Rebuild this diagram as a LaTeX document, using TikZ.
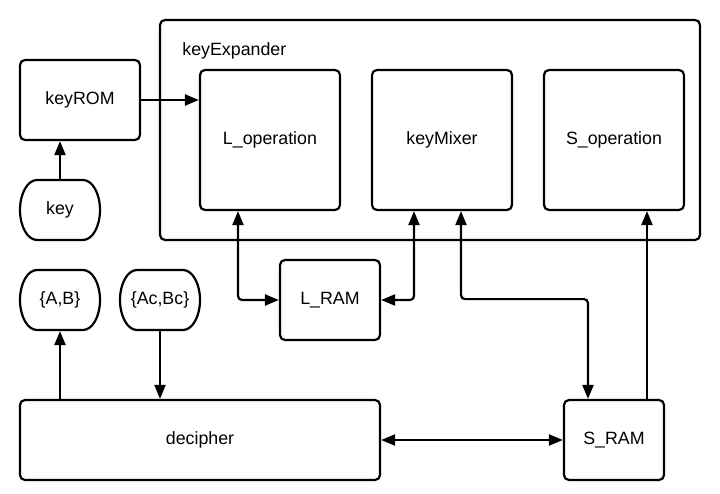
\documentclass[tikz,border=0pt]{standalone}
\usepackage{fontspec}
\setmainfont{Liberation Sans}
\usetikzlibrary{arrows.meta}
\begin{document}
\begin{tikzpicture}[x=1bp,y=-1bp,line width=2.2bp,
  lbl/.style={font=\fontsize{17.8bp}{21bp}\selectfont},
  box/.style={lbl,draw,rounded corners=5bp,inner sep=0pt},
  term/.style={lbl,inner sep=0pt,minimum width=80bp,minimum height=60bp},
  tip/.tip={Triangle[length=14bp,width=11bp]},
  arr/.style={-tip,rounded corners=4bp},
  dbl/.style={tip-tip,rounded corners=4bp}]
\useasboundingbox[fill=white] (0,0) rectangle (720,494);
% containers and boxes
\node[box,minimum width=540bp,minimum height=220bp] (ke) at (430,130) {};
\node[lbl,anchor=base west] (kelabel) at (178,56) {keyExpander};
\node[box,minimum width=120bp,minimum height=80bp] (keyROM) at (80,100) {keyROM};
\node[box,minimum width=140bp,minimum height=140bp] (Lop) at (270,140) {L\_operation};
\node[box,minimum width=140bp,minimum height=140bp] (km) at (442,140) {keyMixer};
\node[box,minimum width=140bp,minimum height=140bp] (Sop) at (614,140) {S\_operation};
\node[box,minimum width=100bp,minimum height=80bp] (LRAM) at (330,300) {L\_RAM};
\node[box,minimum width=360bp,minimum height=80bp] (dec) at (200,440) {decipher};
\node[box,minimum width=100bp,minimum height=80bp] (SRAM) at (614,440) {S\_RAM};
% terminals
\node[term] (key) at (60,210) {key};
\node[term] (AB) at (60,300) {\{A,B\}};
\node[term] (AcBc) at (160,300) {\{Ac,Bc\}};
\foreach \cx/\cy in {60/210,60/300,160/300}{
  \draw ({\cx-23},{\cy-30}) -- ({\cx+23},{\cy-30})
    .. controls ({\cx+32.4},{\cy-30}) and ({\cx+40},{\cy-16.6}) .. ({\cx+40},{\cy})
    .. controls ({\cx+40},{\cy+16.6}) and ({\cx+32.4},{\cy+30}) .. ({\cx+23},{\cy+30})
    -- ({\cx-23},{\cy+30})
    .. controls ({\cx-32.4},{\cy+30}) and ({\cx-40},{\cy+16.6}) .. ({\cx-40},{\cy})
    .. controls ({\cx-40},{\cy-16.6}) and ({\cx-32.4},{\cy-30}) .. ({\cx-23},{\cy-30}) -- cycle;
}
% connectors
\draw[arr] (keyROM.east) -- (keyROM.east -| Lop.west);
\draw[arr] (key.north) -- (key.north |- keyROM.south);
\draw[dbl] ([xshift=-32bp]Lop.south) |- (LRAM.west);
\draw[dbl] ([xshift=-28bp]km.south) |- (LRAM.east);
\draw[dbl] ([xshift=19bp]km.south) -- ++(0,88) -| ([xshift=-26bp]SRAM.north);
\draw[arr] ([xshift=33bp]SRAM.north) -- ([xshift=33bp]Sop.south);
\draw[dbl] (dec.east) -- (SRAM.west);
\draw[arr] (dec.north -| AB.south) -- (AB.south);
\draw[arr] (AcBc.south) -- (AcBc.south |- dec.north);
\end{tikzpicture}
\end{document}
